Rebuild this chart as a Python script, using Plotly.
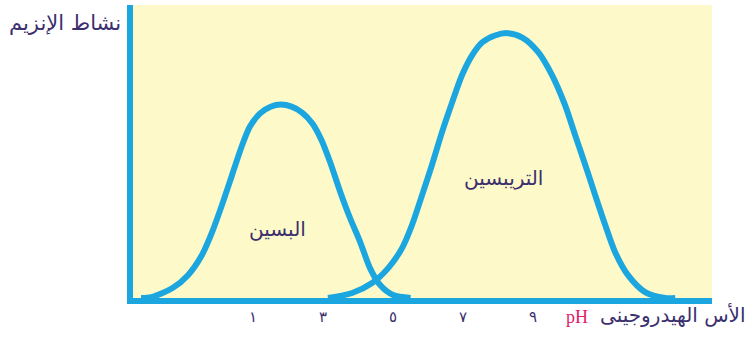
import plotly.graph_objects as go

# pH values and relative activity
pepsin_ph = [-2.2, -1.9, -1.3, -0.86, -0.46, -0.17, 0.11, 0.4, 0.69, 0.91, 1.2, 1.5, 1.8,
             2.1, 2.4, 2.7, 2.95, 3.2, 3.49, 3.77, 4.06, 4.34, 4.63, 5.0, 5.5]
pepsin_act = [0, 0.3, 3.4, 7.8, 14.7, 22.5, 31.7, 42.0, 52.2, 58.5, 63.0, 65.3, 66.0,
              65.3, 63.3, 59.5, 54.0, 46.4, 36.2, 27.3, 19.1, 10.2, 4.4, 1.0, 0]

trypsin_ph = [3.14, 3.83, 4.4, 4.86, 5.26, 5.54, 5.83, 6.11, 6.4, 6.69, 6.97, 7.26, 7.54, 7.91,
              8.26, 8.69, 9.14, 9.54, 9.91, 10.2, 10.49, 10.77, 11.06, 11.34, 11.71, 12.2, 12.77, 13.06]
trypsin_act = [0, 1.7, 5.1, 10.2, 17.1, 24.9, 35.2, 45.4, 56.7, 66.9, 76.1, 82.9, 87.2, 89.6,
               90.4, 88.9, 84.0, 76.1, 65.9, 55.6, 45.4, 35.2, 24.9, 15.7, 7.8, 2.0, 0, 0]

tick_vals = [1, 3, 5, 7, 9]
tick_text = ['١', '٣', '٥', '٧', '٩']

BLUE = '#1ba6df'
INK = '#3b2f6e'
AR_FONT = 'DejaVu Sans'

fig = go.Figure()
for xs, ys in [(pepsin_ph, pepsin_act), (trypsin_ph, trypsin_act)]:
    fig.add_trace(go.Scatter(
        x=xs, y=ys, mode='lines',
        line={'color': BLUE, 'width': 6, 'shape': 'spline', 'smoothing': 0.8},
        hoverinfo='skip', showlegend=False,
    ))

# curve labels
fig.add_annotation(x=1.69, y=23.5, text='البسين', showarrow=False,
                   font={'family': AR_FONT, 'size': 20, 'color': INK})
fig.add_annotation(x=8.14, y=41, text='التريبسين', showarrow=False,
                   font={'family': AR_FONT, 'size': 20, 'color': INK})

# axis titles
fig.add_annotation(xref='paper', yref='paper', x=-0.218, y=0.985, xanchor='left',
                   text='نشاط الإنزيم', showarrow=False,
                   font={'family': AR_FONT, 'size': 21, 'color': INK})
fig.add_annotation(xref='paper', yref='paper', x=0.79, y=-0.105, xanchor='right',
                   text='pH', showarrow=False,
                   font={'family': 'Liberation Serif', 'size': 18, 'color': '#e0206a'})
fig.add_annotation(xref='paper', yref='paper', x=1.062, y=-0.105, xanchor='right',
                   text='الأس الهيدروجينى', showarrow=False,
                   font={'family': AR_FONT, 'size': 20, 'color': INK})

fig.update_xaxes(
    range=[-2.43, 14.11], showgrid=False, zeroline=False,
    showline=True, linewidth=6, linecolor=BLUE,
    tickmode='array', tickvals=tick_vals, ticktext=tick_text,
    ticks='', tickfont={'family': AR_FONT, 'size': 15, 'color': INK},
)
fig.update_yaxes(
    range=[0, 100], showgrid=False, zeroline=False,
    showline=True, linewidth=6, linecolor=BLUE, showticklabels=False, ticks='',
)
fig.update_layout(
    width=750, height=344,
    margin={'l': 133, 'r': 38, 't': 5, 'b': 46},
    plot_bgcolor='#fef9c9', paper_bgcolor='white',
)

# drop the page's default body margin so the figure sits at the corner
fig.write_html('out.html', config={'displayModeBar': False},
               post_script="document.body.style.margin='0';")
